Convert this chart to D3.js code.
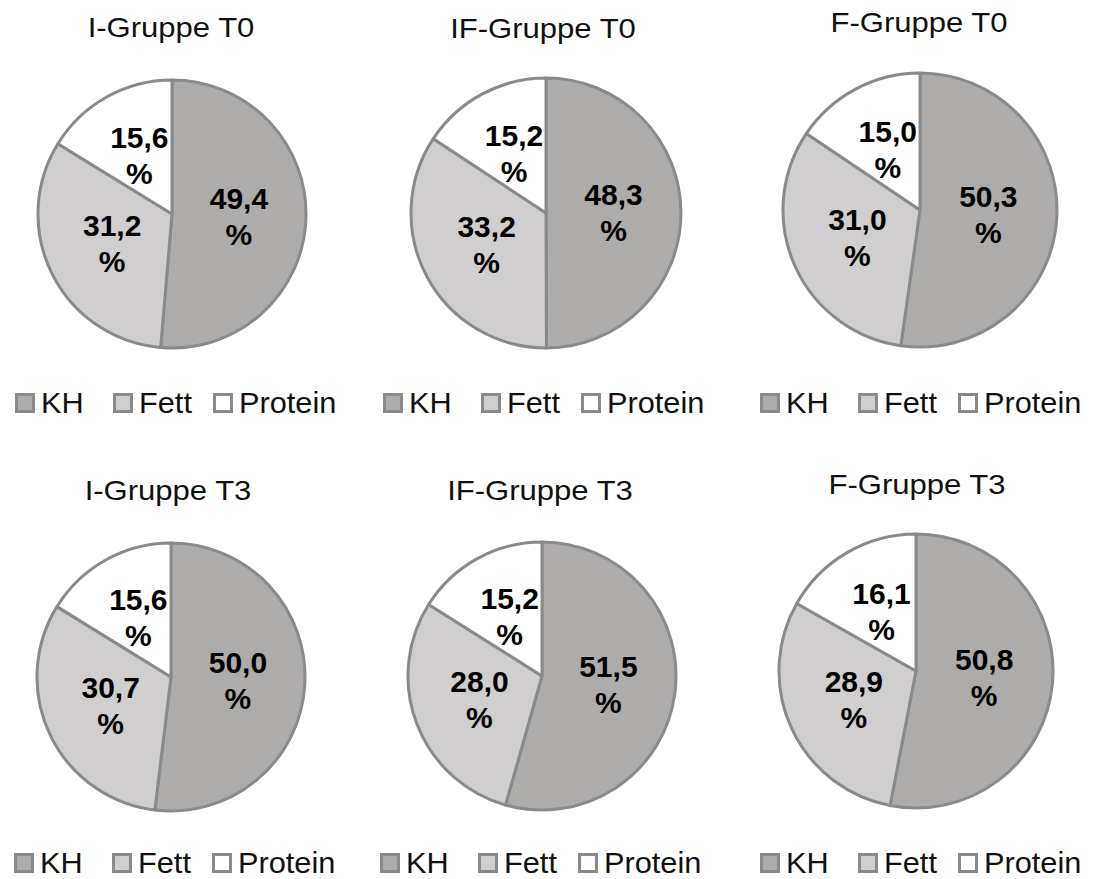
<!DOCTYPE html>
<html>
<head>
<meta charset="utf-8">
<script src="https://cdn.jsdelivr.net/npm/d3@7"></script>
<style>
  html, body { margin: 0; padding: 0; background: #fff; }
  svg { display: block; font-family: "Liberation Sans", Arial, sans-serif; }
</style>
</head>
<body>
<svg id="chart" width="1093" height="879"></svg>
<script>
// ---- data ----
const categories = ["KH", "Fett", "Protein"];
const titles = ["I-Gruppe T0", "IF-Gruppe T0", "F-Gruppe T0", "I-Gruppe T3", "IF-Gruppe T3", "F-Gruppe T3"];
const khValues = [49.4, 48.3, 50.3, 50.0, 51.5, 50.8];
const fettValues = [31.2, 33.2, 31.0, 30.7, 28.0, 28.9];
const proteinValues = [15.6, 15.2, 15.0, 15.6, 15.2, 16.1];

// ---- layout ----
const panels = [
  { cx: 172, cy: 214, r: 134, tx: 171, ty: 37, lx: 15, ly: 413 },
  { cx: 546, cy: 213, r: 135, tx: 543, ty: 38, lx: 383, ly: 413 },
  { cx: 920, cy: 210, r: 137, tx: 919, ty: 32, lx: 760, ly: 413 },
  { cx: 171, cy: 677, r: 134, tx: 168, ty: 500, lx: 14, ly: 873 },
  { cx: 542, cy: 676, r: 134, tx: 540, ty: 500, lx: 380, ly: 873 },
  { cx: 916, cy: 671, r: 137, tx: 917, ty: 494, lx: 760, ly: 873 }
];
const legendOffsets = [0, 98, 198];

const color = d3.scaleOrdinal().domain(categories).range(["#aeabab", "#d0cece", "#ffffff"]);
const strokeColor = "#8a8a8a";
const loc = d3.formatLocale({ decimal: ",", thousands: ".", grouping: [3], currency: ["", "€"] });
const fmt = loc.format(".1f");

const svg = d3.select("#chart");
const pie = d3.pie().sort(null).value(d => d.value);

titles.forEach((title, i) => {
  const p = panels[i];
  const data = [
    { key: "KH", value: khValues[i] },
    { key: "Fett", value: fettValues[i] },
    { key: "Protein", value: proteinValues[i] }
  ];
  const arcs = pie(data);
  const arc = d3.arc().innerRadius(0).outerRadius(p.r);
  const labelArc = d3.arc().innerRadius(p.r * 0.5).outerRadius(p.r * 0.5);

  // title
  svg.append("text")
    .attr("transform", `translate(${p.tx},${p.ty}) scale(1.15,1)`)
    .attr("text-anchor", "middle")
    .attr("font-size", 27)
    .attr("fill", "#111")
    .text(title);

  const g = svg.append("g").attr("transform", `translate(${p.cx},${p.cy})`);
  g.selectAll("path.slice")
    .data(arcs)
    .join("path")
    .attr("class", "slice")
    .attr("d", arc)
    .attr("fill", d => color(d.data.key))
    .attr("stroke", strokeColor)
    .attr("stroke-width", 3)
    .attr("stroke-linejoin", "round");

  const lbl = g.selectAll("g.lbl")
    .data(arcs)
    .join("g")
    .attr("class", "lbl")
    .attr("transform", d => `translate(${labelArc.centroid(d)})`);
  lbl.append("text")
    .attr("text-anchor", "middle")
    .attr("y", -8)
    .attr("font-size", 30)
    .attr("font-weight", "bold")
    .attr("fill", "#000")
    .text(d => fmt(d.data.value));
  lbl.append("text")
    .attr("text-anchor", "middle")
    .attr("y", 28)
    .attr("font-size", 30)
    .attr("font-weight", "bold")
    .attr("fill", "#000")
    .text("%");

  // legend
  const leg = svg.append("g").attr("transform", `translate(${p.lx},${p.ly})`);
  const items = leg.selectAll("g.item")
    .data(categories)
    .join("g")
    .attr("class", "item")
    .attr("transform", (d, k) => `translate(${legendOffsets[k]},0)`);
  items.append("rect")
    .attr("x", 1.5)
    .attr("y", -18.5)
    .attr("width", 17)
    .attr("height", 17)
    .attr("fill", d => color(d))
    .attr("stroke", strokeColor)
    .attr("stroke-width", 3);
  items.append("text")
    .attr("transform", "translate(26,0) scale(1.06,1)")
    .attr("font-size", 29)
    .attr("fill", "#111")
    .text(d => d);
});
</script>
</body>
</html>
